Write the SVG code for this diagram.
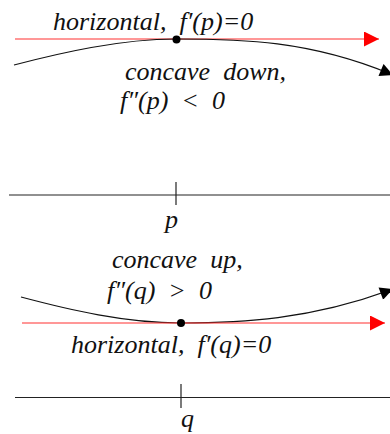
<svg xmlns="http://www.w3.org/2000/svg" width="390" height="434" viewBox="0 0 390 434">
<style>
text{font-family:"Liberation Serif","Times New Roman",serif;font-style:italic;font-size:26px;fill:#111;white-space:pre}
.ax{stroke:#222;stroke-width:1.2;fill:none}
.red{stroke:#ff3030;stroke-width:1.2;fill:none}
.crv{stroke:#111;stroke-width:1.1;fill:none}
</style>
<defs>
<marker id="ar" viewBox="0 0 10 10" refX="10" refY="5" markerWidth="16" markerHeight="15" markerUnits="userSpaceOnUse" orient="auto"><path d="M0,0 L10,5 L0,10 z" fill="#ff0000"/></marker>
<marker id="ab" viewBox="0 0 10 10" refX="10" refY="5" markerWidth="15" markerHeight="13" markerUnits="userSpaceOnUse" orient="auto"><path d="M0,0 L10,5 L0,10 z" fill="#000"/></marker>
</defs>
<g id="connectors">
<line class="red" x1="15" y1="39" x2="379" y2="39" marker-end="url(#ar)"/>
<path class="crv" d="M14,65 C60,53 120,39 176,39 C240,39 310,40 393,75" marker-end="url(#ab)"/>
<line class="ax" x1="9" y1="195" x2="390" y2="195"/>
<line class="ax" x1="176" y1="182" x2="176" y2="205"/>
<path class="crv" d="M21,297 C70,310 125,323 181,323 C240,323 310,320 393,289" marker-end="url(#ab)"/>
<line class="red" x1="22" y1="323" x2="385" y2="323" marker-end="url(#ar)"/>
<line class="ax" x1="15" y1="397.5" x2="390" y2="397.5"/>
<line class="ax" x1="181" y1="384" x2="181" y2="408"/>
</g>
<g id="point-p"><circle cx="176.5" cy="39.5" r="4" fill="#000"/></g>
<g id="point-q"><circle cx="181" cy="323" r="4" fill="#000"/></g>
<g id="label-top-horizontal"><text x="53" y="30">horizontal,  f′(p)=0</text></g>
<g id="label-concave-down"><text x="125" y="80">concave  down,</text><text x="120" y="109">f″(p)  &lt;  0</text></g>
<g id="label-p"><text x="165" y="228">p</text></g>
<g id="label-concave-up"><text x="112" y="268">concave  up,</text><text x="107" y="299">f″(q)  &gt;  0</text></g>
<g id="label-bottom-horizontal"><text x="71" y="353">horizontal,  f′(q)=0</text></g>
<g id="label-q"><text x="181" y="427">q</text></g>
</svg>
